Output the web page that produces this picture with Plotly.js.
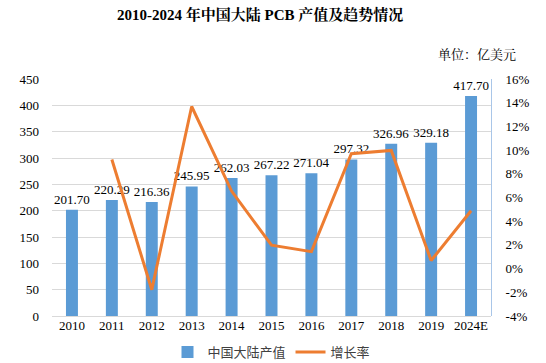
<!DOCTYPE html>
<html>
<head>
<meta charset="utf-8">
<script src="https://cdn.plot.ly/plotly-3.0.1.min.js"></script>
<style>html,body{margin:0;padding:0;background:#fff;}#chart{width:546px;height:363px;}</style>
</head>
<body>
<div id="chart"></div>
<script>
const years = ['2010','2011','2012','2013','2014','2015','2016','2017','2018','2019','2024E'];
const output = [201.70, 220.29, 216.36, 245.95, 262.03, 267.22, 271.04, 297.32, 326.96, 329.18, 417.70];
const growth = [null, 9.21, -1.78, 13.68, 6.54, 1.98, 1.43, 9.70, 9.97, 0.68, 4.88];
const leftTicks = [0,50,100,150,200,250,300,350,400,450];
const rightTicks = [-4,-2,0,2,4,6,8,10,12,14,16];

const serif = 'Liberation Serif, Times New Roman, Noto Serif CJK SC, Noto Sans CJK SC, serif';

const traces = [
  {
    type: 'bar', x: years, y: output, name: '中国大陆产值',
    marker: {color: '#5B9BD5'},
    text: output.map(v => v.toFixed(2)), textposition: 'outside', constraintext: 'none',
    textfont: {family: serif, size: 13, color: '#000'},
    cliponaxis: false, width: 0.3
  },
  {
    type: 'scatter', mode: 'lines', x: years, y: growth, name: '增长率', yaxis: 'y2',
    line: {color: '#ED7D31', width: 3}, connectgaps: false
  }
];

const layout = {
  width: 546, height: 363,
  margin: {l: 52, r: 55, t: 79, b: 47},
  paper_bgcolor: '#fff', plot_bgcolor: '#fff',
  font: {family: serif, size: 13, color: '#000'},
  showlegend: true,
  legend: {orientation: 'h', x: 0.5, xanchor: 'center', yref: 'container', y: 1 - 352/363, yanchor: 'middle',
           font: {family: 'Noto Sans CJK SC, sans-serif', size: 13, color: '#404040'}, itemwidth: 30},
  xaxis: {type: 'category', showgrid: false, zeroline: false, showline: false, ticks: '', automargin: false,
          tickfont: {family: serif, size: 13, color: '#000'}},
  yaxis: {range: [0, 450], tickvals: leftTicks, showgrid: true, gridcolor: '#D9D9D9', gridwidth: 1,
          zeroline: true, zerolinecolor: '#D9D9D9', showline: false, ticks: '', automargin: false,
          ticklabelstandoff: 12, tickfont: {family: serif, size: 13, color: '#000'}},
  yaxis2: {overlaying: 'y', side: 'right', range: [-4, 16], tickvals: rightTicks,
           ticktext: rightTicks.map(v => v + '%'), showgrid: false, zeroline: false,
           showline: true, linecolor: '#A9C6E8', linewidth: 1, ticks: '', automargin: false,
           ticklabelstandoff: 11, tickfont: {family: serif, size: 13, color: '#000'}},
  annotations: [
    {text: '<b>2010-2024 年中国大陆 PCB 产值及趋势情况</b>', xref: 'paper', yref: 'paper',
     x: (260-52)/439, y: 1 + (79-15)/237, xanchor: 'center', yanchor: 'middle', showarrow: false,
     font: {family: serif, size: 15, color: '#000'}},
    {text: '单位：亿美元', xref: 'paper', yref: 'paper',
     x: (518-52)/439, y: 1 + (79-53)/237, xanchor: 'right', yanchor: 'middle', showarrow: false,
     font: {family: 'Noto Serif CJK SC, Noto Sans CJK SC, serif', size: 13, color: '#000'}}
  ]
};

Plotly.newPlot('chart', traces, layout, {displayModeBar: false, staticPlot: true});
</script>
</body>
</html>
